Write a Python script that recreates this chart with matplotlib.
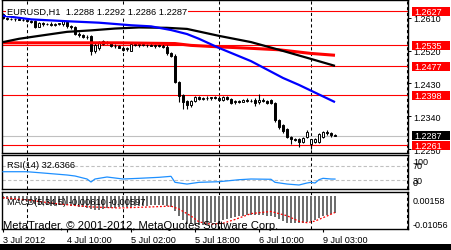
import matplotlib
matplotlib.use("Agg")
import matplotlib.pyplot as plt
import matplotlib.transforms as mtransforms
from matplotlib.patches import Rectangle

plt.rcParams['font.family'] = ['Liberation Sans', 'DejaVu Sans']

W, H = 451, 251

chart_title = "EURUSD,H1  1.2288 1.2292 1.2286 1.2287"
copyright_text = "MetaTrader, \u00a9 2001-2012, MetaQuotes Software Corp."

# hourly bars, 3 Jul 18:00 .. 9 Jul 06:00
opens = [1.2620, 1.2608, 1.2606, 1.2605, 1.2606, 1.2604, 1.2603, 1.2601, 1.2600, 1.2585,
         1.2595, 1.2592, 1.2593, 1.2590, 1.2592, 1.2593, 1.2598, 1.2586, 1.2585, 1.2566,
         1.2562, 1.2558, 1.2560, 1.2518, 1.2526, 1.2538, 1.2544, 1.2540, 1.2533, 1.2531,
         1.2528, 1.2523, 1.2520, 1.2537, 1.2535, 1.2537, 1.2534, 1.2536, 1.2533, 1.2535,
         1.2532, 1.2530, 1.2512, 1.2506, 1.2434, 1.2398, 1.2382, 1.2372, 1.2382, 1.2392,
         1.2388, 1.2391, 1.2389, 1.2392, 1.2390, 1.2384, 1.2393, 1.2388, 1.2378, 1.2382,
         1.2380, 1.2385, 1.2383, 1.2386, 1.2378, 1.2386, 1.2382, 1.2385, 1.2377, 1.2330,
         1.2316, 1.2305, 1.2283, 1.2278, 1.2278, 1.2270, 1.2284, 1.2264, 1.2270, 1.2270,
         1.2283, 1.2297, 1.2295, 1.2288]
highs = [1.2623, 1.2611, 1.2610, 1.2609, 1.2608, 1.2608, 1.2606, 1.2604, 1.2602, 1.2598,
         1.2598, 1.2596, 1.2597, 1.2595, 1.2596, 1.2603, 1.2601, 1.2590, 1.2587, 1.2571,
         1.2565, 1.2562, 1.2562, 1.2540, 1.2546, 1.2548, 1.2547, 1.2543, 1.2537, 1.2535,
         1.2532, 1.2529, 1.2540, 1.2541, 1.2540, 1.2541, 1.2539, 1.2540, 1.2538, 1.2539,
         1.2537, 1.2534, 1.2515, 1.2510, 1.2436, 1.2402, 1.2386, 1.2386, 1.2395, 1.2396,
         1.2394, 1.2395, 1.2394, 1.2396, 1.2396, 1.2396, 1.2397, 1.2391, 1.2384, 1.2386,
         1.2388, 1.2389, 1.2387, 1.2389, 1.2401, 1.2389, 1.2385, 1.2388, 1.2380, 1.2333,
         1.2320, 1.2308, 1.2286, 1.2281, 1.2280, 1.2283, 1.2303, 1.2279, 1.2280, 1.2294,
         1.2300, 1.2302, 1.2298, 1.2292]
lows = [1.2605, 1.2603, 1.2603, 1.2601, 1.2602, 1.2600, 1.2598, 1.2596, 1.2582, 1.2583,
        1.2588, 1.2589, 1.2588, 1.2587, 1.2589, 1.2586, 1.2582, 1.2580, 1.2563, 1.2558,
        1.2555, 1.2552, 1.2508, 1.2512, 1.2521, 1.2535, 1.2538, 1.2530, 1.2528, 1.2526,
        1.2518, 1.2519, 1.2518, 1.2532, 1.2530, 1.2531, 1.2530, 1.2531, 1.2528, 1.2530,
        1.2526, 1.2508, 1.2502, 1.2430, 1.2378, 1.2360, 1.2360, 1.2366, 1.2378, 1.2385,
        1.2384, 1.2386, 1.2385, 1.2387, 1.2382, 1.2381, 1.2386, 1.2374, 1.2375, 1.2376,
        1.2378, 1.2380, 1.2378, 1.2368, 1.2375, 1.2378, 1.2374, 1.2374, 1.2326, 1.2305,
        1.2294, 1.2280, 1.2264, 1.2272, 1.2256, 1.2266, 1.2280, 1.2252, 1.2266, 1.2268,
        1.2280, 1.2290, 1.2285, 1.2286]
closes = [1.2608, 1.2606, 1.2605, 1.2606, 1.2604, 1.2603, 1.2601, 1.2599, 1.2585, 1.2595,
          1.2592, 1.2593, 1.2590, 1.2592, 1.2594, 1.2600, 1.2586, 1.2583, 1.2566, 1.2562,
          1.2558, 1.2557, 1.2518, 1.2536, 1.2544, 1.2545, 1.2540, 1.2533, 1.2531, 1.2528,
          1.2522, 1.2526, 1.2537, 1.2535, 1.2537, 1.2534, 1.2536, 1.2533, 1.2535, 1.2532,
          1.2530, 1.2512, 1.2506, 1.2434, 1.2395, 1.2380, 1.2371, 1.2382, 1.2392, 1.2388,
          1.2391, 1.2389, 1.2392, 1.2390, 1.2386, 1.2393, 1.2388, 1.2377, 1.2382, 1.2380,
          1.2385, 1.2383, 1.2381, 1.2376, 1.2386, 1.2381, 1.2377, 1.2377, 1.2330, 1.2311,
          1.2300, 1.2283, 1.2278, 1.2275, 1.2270, 1.2281, 1.2297, 1.2278, 1.2278, 1.2291,
          1.2297, 1.2294, 1.2288, 1.2287]

# moving averages (bar index, price)
ma_black_x = [0, 4, 9, 16, 22, 28, 34, 41, 46, 54, 62, 69, 77, 83]
ma_black = [1.2543, 1.2552, 1.2560, 1.2571, 1.2575, 1.2580, 1.2583, 1.2582, 1.2579,
            1.2560, 1.2543, 1.2522, 1.2497, 1.2478]
ma_red_x = [0, 14, 29, 43, 47, 54, 62, 69, 77, 83]
ma_red = [1.2541, 1.2541, 1.2541, 1.2539, 1.2534, 1.2530, 1.2526, 1.2522, 1.2512, 1.2507]
ma_blue_x = [0, 7, 16, 24, 32, 37, 42, 46, 49, 54, 62, 70, 74, 83]
ma_blue = [1.2615, 1.2605, 1.2600, 1.2596, 1.2589, 1.2586, 1.2576, 1.2565, 1.2552,
           1.2527, 1.2491, 1.2445, 1.2426, 1.2379]

level_lines = [1.2627, 1.2535, 1.2477, 1.2398, 1.2261]
bid_price = 1.2287
price_ticks = [1.2610, 1.2520, 1.2430, 1.2340, 1.2250]

rsi_x = [0, 6, 10, 16, 18, 21, 22, 23, 26, 30, 34, 39, 42, 43, 46, 49, 54, 59, 62,
         67, 68, 71, 74, 76, 77, 78, 79, 80, 82, 83]
rsi = [53.2, 53.2, 49.6, 44.0, 41.2, 32.8, 24.4, 32.8, 38.4, 32.8, 34.7, 37.5, 40.3,
       23.5, 18.6, 23.5, 25.2, 30.8, 32.8, 32.0, 23.5, 18.7, 16.0, 21.6, 23.5, 21.6,
       30.8, 34.7, 32.8, 32.6366]
rsi_levels = [70, 30]

macd_main = [-0.0009, -0.0009, -0.0013, -0.0013, -0.0017, -0.0017, -0.0021, -0.0024,
             -0.0028, -0.0032, -0.0032, -0.0032, -0.0036, -0.0036, -0.0032, -0.0032,
             -0.0032, -0.0036, -0.0036, -0.0039, -0.0039, -0.0043, -0.0047, -0.0050,
             -0.0050, -0.0047, -0.0043, -0.0043, -0.0043, -0.0039, -0.0039, -0.0039,
             -0.0039, -0.0036, -0.0036, -0.0036, -0.0036, -0.0032, -0.0032, -0.0032,
             -0.0032, -0.0036, -0.0039, -0.0054, -0.0073, -0.0088, -0.0099, -0.0103,
             -0.0105, -0.01056, -0.0105, -0.0103, -0.0099, -0.0095, -0.0092, -0.0088,
             -0.0084, -0.0080, -0.0077, -0.0073, -0.0073, -0.0069, -0.0069, -0.0069,
             -0.0069, -0.0069, -0.0073, -0.0073, -0.0077, -0.0084, -0.0092, -0.0099,
             -0.0099, -0.0101, -0.0101, -0.0099, -0.0095, -0.0092, -0.0088, -0.0080,
             -0.0073, -0.0069, -0.0065, -0.0061]
signal_x = [0, 6, 14, 22, 29, 37, 42, 44, 47, 49, 52, 55, 58, 62, 67, 71, 74, 76, 78, 81, 83]
signal = [-0.00045, -0.0013, -0.0028, -0.0039, -0.0043, -0.0039, -0.0036, -0.0047, -0.0073,
          -0.0095, -0.0104, -0.0100, -0.0086, -0.0064, -0.0056, -0.0072, -0.0093, -0.0098,
          -0.0092, -0.0073, -0.00597]
macd_max, macd_min = 0.00158, -0.01056

time_ticks = [0, 16, 32, 48, 64, 80]
time_labels = ["3 Jul 2012", "4 Jul 10:00", "5 Jul 02:00", "5 Jul 18:00", "6 Jul 10:00", "9 Jul 03:00"]
day_starts = [6, 30, 54, 77, 101]

fig = plt.figure(figsize=(W / 100, H / 100), dpi=100)
fig.patch.set_facecolor('white')


def pane(top, bottom, left=2, right=408):
    a = fig.add_axes([left / W, 1 - bottom / H, (right - left) / W, (bottom - top) / H])
    a.set_xlim(-0.25, 101.25)
    for s in a.spines.values():
        s.set_linewidth(1.0)
    a.set_xticks([])
    a.set_yticks([])
    for d in day_starts:
        a.axvline(d, color='black', lw=0.75, dashes=(3, 2.5), zorder=0.5)
    return a


ax = pane(1, 154)
ax_rsi = pane(156, 190)
ax_macd = pane(193, 230)

# ---- main chart
ax.set_ylim(1.2240, 1.2658)
for lv in level_lines:
    ax.axhline(lv, color='#ff0000', lw=0.8, zorder=1)
ax.axhline(bid_price, color='#c0c0c0', lw=0.8, zorder=1)

idx = list(range(len(opens)))
ax.vlines(idx, lows, highs, color='black', lw=0.8, zorder=2)
bodies = [max(abs(c - o), 0.00003) for o, c in zip(opens, closes)]
bottoms = [min(o, c) for o, c in zip(opens, closes)]
faces = ['white' if c > o else 'black' for o, c in zip(opens, closes)]
ax.bar(idx, bodies, bottom=bottoms, width=0.6, color=faces, edgecolor='black',
       linewidth=0.7, zorder=3)

ax.plot(ma_red_x, ma_red, color='#ff0000', lw=2.2, zorder=4, solid_capstyle='butt')
ax.plot(ma_black_x, ma_black, color='black', lw=1.6, zorder=4, solid_capstyle='butt')
ax.plot(ma_blue_x, ma_blue, color='#0000ff', lw=1.6, zorder=4, solid_capstyle='butt')

ax.text(5 / 406, 1 - 11 / 153, chart_title, transform=ax.transAxes, fontsize=6.7,
        va='center', ha='left', zorder=6,
        bbox=dict(facecolor='white', edgecolor='none', pad=0.6))

ax.yaxis.tick_right()
ax.set_yticks(price_ticks)
ax.set_yticklabels(["%.4f" % p for p in price_ticks])
ax.tick_params(axis='y', length=2.5, width=0.7, pad=1.5, labelsize=6.5, direction='out')

blend = mtransforms.blended_transform_factory(ax.transAxes, ax.transData)
box_l = (411.5 - 2) / 406
box_w = (450 - 411.5) / 406
box_h = 9 / 3653
for lv in level_lines + [bid_price]:
    col = 'black' if lv == bid_price else '#ff0000'
    ax.add_patch(Rectangle((box_l, lv - box_h / 2), box_w, box_h, transform=blend,
                           facecolor=col, edgecolor='none', clip_on=False, zorder=6))
    ax.text(box_l + 2.5 / 406, lv, "%.4f" % lv, transform=blend, color='white',
            fontsize=6.5, va='center', ha='left', clip_on=False, zorder=7)

# ---- RSI
ax_rsi.set_ylim(4.8, 100)
for lv in rsi_levels:
    ax_rsi.axhline(lv, color='#c0c0c0', lw=0.8, dashes=(3, 2), zorder=1)
ax_rsi.plot(rsi_x, rsi, color='#1e90ff', lw=0.9, zorder=3)
ax_rsi.text(5 / 406, 0.71, "RSI(14) %.4f" % rsi[-1], transform=ax_rsi.transAxes,
            fontsize=6.7, va='center', ha='left')
rblend = mtransforms.blended_transform_factory(ax_rsi.transAxes, ax_rsi.transData)
ax_rsi.annotate("100", xy=(1, 100), xycoords=rblend, xytext=(3.5, -1.5),
                textcoords='offset points', fontsize=6.5, va='top', ha='left',
                annotation_clip=False)
ax_rsi.annotate("0", xy=(1, 4.8), xycoords=rblend, xytext=(3.5, 1.5),
                textcoords='offset points', fontsize=6.5, va='bottom', ha='left',
                annotation_clip=False)
for lv in rsi_levels:
    ax_rsi.annotate(str(lv), xy=(1, lv), xycoords=rblend, xytext=(3.5, 0),
                    textcoords='offset points', fontsize=6.5, va='center', ha='left',
                    annotation_clip=False)

# ---- MACD
ax_macd.set_ylim(-0.01216, 0.00168)
ax_macd.bar(idx, macd_main, width=0.72, color='#6e6e6e', edgecolor='none', zorder=2)
ax_macd.plot(signal_x, signal, color='#ff0000', lw=0.9, ls=(0, (1.5, 1.5)), zorder=3)
ax_macd.text(5 / 406, 0.74, "MACD(5,34,5) %.5f %.5f" % (macd_main[-1], signal[-1]),
             transform=ax_macd.transAxes, fontsize=6.7, va='center', ha='left', zorder=5)
ax_macd.text(1 / 406, 0.1, copyright_text, transform=ax_macd.transAxes,
             fontsize=8.1, va='center', ha='left', zorder=5)
mblend = mtransforms.blended_transform_factory(ax_macd.transAxes, ax_macd.transData)
ax_macd.annotate("%.5f" % macd_max, xy=(1, macd_max), xycoords=mblend, xytext=(3.5, -3),
                 textcoords='offset points', fontsize=6.5, va='top', ha='left',
                 annotation_clip=False)
ax_macd.annotate("%.5f" % macd_min, xy=(1, macd_min), xycoords=mblend, xytext=(3.5, 0),
                 textcoords='offset points', fontsize=6.5, va='center', ha='left',
                 annotation_clip=False)

ax_macd.set_xticks(time_ticks)
ax_macd.set_xticklabels(time_labels, ha='left')
ax_macd.tick_params(axis='x', length=2.5, width=0.8, pad=2, labelsize=6.6)

# bottom frame band
fig.patches.append(Rectangle((0, 0), 1, 6 / H, transform=fig.transFigure,
                             facecolor='black', edgecolor='none'))

fig.savefig("out.png", dpi=100)
